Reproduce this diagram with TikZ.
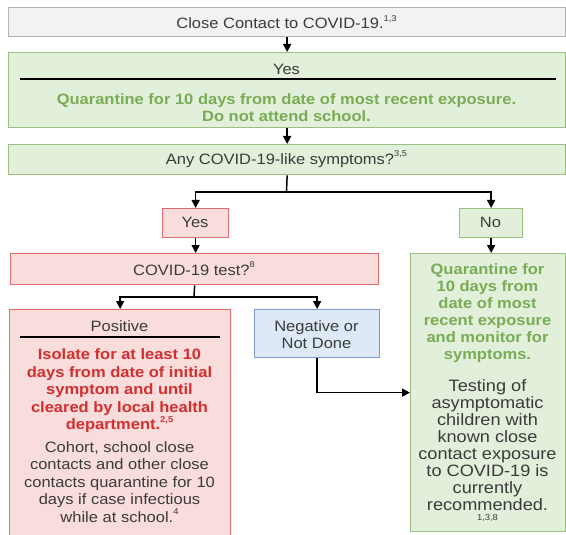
\documentclass[tikz,border=0pt]{standalone}
\usepackage{fontspec}
\setmainfont{Liberation Sans}[FakeStretch=1.1]
\usetikzlibrary{arrows.meta}
\definecolor{txtgray}{HTML}{3B3B3B}
\definecolor{grayfill}{HTML}{F2F2F2}
\definecolor{grayline}{HTML}{B4B4B4}
\definecolor{grfill}{HTML}{E2EFDA}
\definecolor{grline}{HTML}{9CBF80}
\definecolor{grtext}{HTML}{78AC55}
\definecolor{rdfill}{HTML}{F9DCDC}
\definecolor{rdline}{HTML}{E46B6B}
\definecolor{rdtext}{HTML}{D32F2F}
\definecolor{blfill}{HTML}{DDE9F6}
\definecolor{blline}{HTML}{7B9CC8}
\newcommand{\supnum}[1]{\raisebox{0.5em}{\fontsize{8.5}{8.5}\selectfont #1}}
\tikzset{
  basebox/.style={rectangle, inner sep=0pt, line width=1.3pt, anchor=north west, text=txtgray, align=center},
  graybox/.style={basebox, draw=grayline, fill=grayfill},
  greenbox/.style={basebox, draw=grline, fill=grfill},
  redbox/.style={basebox, draw=rdline, fill=rdfill},
  bluebox/.style={basebox, draw=blline, fill=blfill},
  txt/.style={inner sep=0pt, align=center, text=txtgray, font=\fontsize{15}{17}\selectfont},
  bigtxt/.style={txt, font=\fontsize{16.5}{17}\selectfont},
  greentxt/.style={txt, text=grtext, font=\fontsize{15}{17}\selectfont\bfseries},
  redtxt/.style={txt, text=rdtext, font=\fontsize{15}{17.5}\selectfont\bfseries},
  conn/.style={line width=1.5pt, black},
  arr/.style={conn, -{Triangle[length=8pt,width=8pt]}},
  rule/.style={line width=1.2pt, black}
}
\begin{document}
\begin{tikzpicture}[x=1pt, y=-1pt, font=\fontsize{15}{17}\selectfont]
\useasboundingbox (0,0) rectangle (566,535);
\clip (0,0) rectangle (566,535);

% top boxes
\node[graybox, minimum width=557pt, minimum height=29pt] (top) at (8,7) {};
\node[txt] (toptxt) at (286.5,22) {Close Contact to COVID-19.\supnum{1,3}};

\node[greenbox, minimum width=557pt, minimum height=75pt] (g1) at (8,52) {};
\node[txt] (g1yes) at (286.5,69) {Yes};
\draw[rule] (20,79) -- (556,79);
\node[greentxt] (g1txt) at (286.5,107.5) {Quarantine for 10 days from date of most recent exposure.\\Do not attend school.};

\node[greenbox, minimum width=557pt, minimum height=30pt] (any) at (8,144) {};
\node[txt] (anytxt) at (286.5,159) {Any COVID-19-like symptoms?\supnum{3,5}};

% second level
\node[redbox, minimum width=66pt, minimum height=29pt] (yes) at (162,208) {};
\node[txt] (yestxt) at (195,222.5) {Yes};
\node[greenbox, minimum width=63pt, minimum height=29pt] (no) at (459,208) {};
\node[txt] (notxt) at (490.5,222.5) {No};

\node[redbox, minimum width=368pt, minimum height=31pt] (test) at (10,253) {};
\node[txt] (testtxt) at (194,268.5) {COVID-19 test?\supnum{8}};

% positive
\node[redbox, minimum width=221pt, minimum height=240pt] (pos) at (9,309) {};
\node[txt] (postitle) at (119.5,326) {Positive};
\draw[rule] (20,337) -- (220,337);
\node[redtxt] (posred) at (119.5,391) {Isolate for at least 10\\days from date of initial\\symptom and until\\cleared by local health\\department.\supnum{2,5}};
\node[txt, font=\fontsize{15}{17.5}\selectfont] (posblack) at (119.5,482) {Cohort, school close\\contacts and other close\\contacts quarantine for 10\\days if case infectious\\while at school.\supnum{4}};

% negative
\node[bluebox, minimum width=125pt, minimum height=48pt] (neg) at (254,309) {};
\node[txt] (negtxt) at (316.5,334.5) {Negative or\\Not Done};

% quarantine box
\node[greenbox, minimum width=155pt, minimum height=278pt] (qbox) at (410,253) {};
\node[greentxt] (qgreen) at (487.5,313.5) {Quarantine for\\10 days from\\date of most\\recent exposure\\and monitor for\\symptoms.};
\node[bigtxt] (qblack) at (487.5,445.5) {Testing of\\asymptomatic\\children with\\known close\\contact exposure\\to COVID-19 is\\currently\\recommended.};
\node[txt, font=\fontsize{8.5}{8.5}\selectfont] (qref) at (487.5,518) {1,3,8};

% connectors
\coordinate (split1) at (286.5,192);
\coordinate (split2) at (194,297);
\draw[arr] (top) -- (g1);
\draw[arr] (g1) -- (any);
\draw[conn] (any.south) -- (split1);
\draw[arr] (split1) -| (yes.north);
\draw[arr] (split1) -| (no.north);
\draw[arr] (yes.south) -- (yes.south |- test.north);
\draw[conn] (test.south) -- (split2);
\draw[arr] (split2) -| (pos.north);
\draw[arr] (split2) -| (neg.north);
\draw[arr] (no.south) -- (no.south |- qbox.north);
\draw[arr] (neg.south) |- (qbox.west);
\end{tikzpicture}
\end{document}
